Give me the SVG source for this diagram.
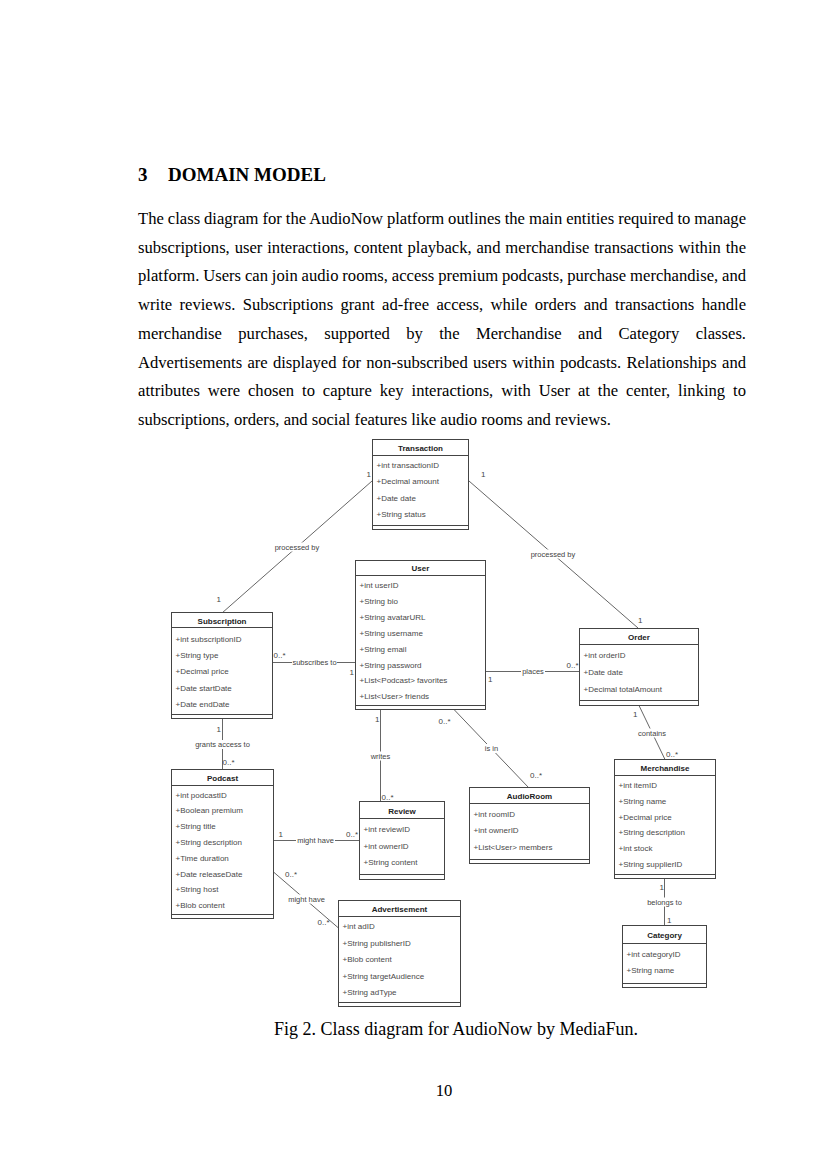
<svg xmlns="http://www.w3.org/2000/svg" width="827" height="1169" viewBox="0 0 827 1169">
<style>
.bg{fill:#fff}
.box{fill:#fff;stroke:#444;stroke-width:1}
.sep{stroke:#444;stroke-width:1;fill:none}
.hd{font-family:"Liberation Sans",Arial,sans-serif;font-size:8px;font-weight:bold;fill:#222;text-anchor:middle}
.at{font-family:"Liberation Sans",Arial,sans-serif;font-size:8px;fill:#4a4a4a}
.ln{stroke:#666;stroke-width:1;fill:none}
.lb{font-family:"Liberation Sans",Arial,sans-serif;font-size:7.5px;fill:#444;text-anchor:middle}
.lbg{fill:#fff}
.m{font-family:"Liberation Sans",Arial,sans-serif;font-size:8px;fill:#444}
.body{font-family:"Liberation Serif","Times New Roman",serif;font-size:16.6px;fill:#000}
.h1{font-family:"Liberation Serif","Times New Roman",serif;font-size:19px;font-weight:bold;fill:#000}
</style>
<rect class="bg" x="0" y="0" width="827" height="1169"/>

<g id="page-text">
<text class="h1" x="138" y="181">3</text>
<text class="h1" x="168" y="181">DOMAIN MODEL</text>
<text class="body" x="138" y="224" textLength="608" lengthAdjust="spacing" style="word-spacing:-0.2px">The class diagram for the AudioNow platform outlines the main entities required to manage</text>
<text class="body" x="138" y="252.7" textLength="608" lengthAdjust="spacing" style="word-spacing:0.75px">subscriptions, user interactions, content playback, and merchandise transactions within the</text>
<text class="body" x="138" y="281.4" textLength="608" lengthAdjust="spacing" style="word-spacing:-0.26px">platform. Users can join audio rooms, access premium podcasts, purchase merchandise, and</text>
<text class="body" x="138" y="310.1" textLength="608" lengthAdjust="spacing" style="word-spacing:3.27px">write reviews. Subscriptions grant ad-free access, while orders and transactions handle</text>
<text class="body" x="138" y="338.8" textLength="608" lengthAdjust="spacing" style="word-spacing:12.25px">merchandise purchases, supported by the Merchandise and Category classes.</text>
<text class="body" x="138" y="367.5" textLength="608" lengthAdjust="spacing" style="word-spacing:1.06px">Advertisements are displayed for non-subscribed users within podcasts. Relationships and</text>
<text class="body" x="138" y="396.2" textLength="608" lengthAdjust="spacing" style="word-spacing:3.75px">attributes were chosen to capture key interactions, with User at the center, linking to</text>
<text class="body" x="138" y="424.9">subscriptions, orders, and social features like audio rooms and reviews.</text>
<text class="body" x="274" y="1035" style="font-size:18px" textLength="364" lengthAdjust="spacing">Fig 2. Class diagram for AudioNow by MediaFun.</text>
<text class="body" x="444" y="1096" text-anchor="middle">10</text>
</g>

<g id="connectors">
<line class="ln" x1="372" y1="481" x2="222" y2="613"/>
<line class="ln" x1="469" y1="481" x2="638" y2="628"/>
<line class="ln" x1="272.5" y1="662.5" x2="355.5" y2="662.5"/>
<line class="ln" x1="486" y1="671.5" x2="579.5" y2="671.5"/>
<line class="ln" x1="639" y1="705.5" x2="665" y2="759.5"/>
<line class="ln" x1="380.5" y1="709.5" x2="380.5" y2="801.5"/>
<line class="ln" x1="454" y1="709.5" x2="528.5" y2="787.5"/>
<line class="ln" x1="222.5" y1="718.5" x2="222.5" y2="769.5"/>
<line class="ln" x1="273.5" y1="840.5" x2="359.5" y2="840.5"/>
<line class="ln" x1="273.5" y1="872" x2="338.5" y2="928"/>
<line class="ln" x1="664.5" y1="878.5" x2="664.5" y2="925.5"/>

<rect class="lbg" x="274" y="542.5" width="46" height="9"/>
<text class="lb" x="297" y="549.7">processed by</text>
<rect class="lbg" x="530" y="549.5" width="46" height="9"/>
<text class="lb" x="553" y="556.7">processed by</text>
<rect class="lbg" x="292" y="658" width="45" height="9"/>
<text class="lb" x="314.5" y="665.2">subscribes to</text>
<rect class="lbg" x="521" y="667" width="24" height="9"/>
<text class="lb" x="533" y="674.2">places</text>
<rect class="lbg" x="637" y="728.5" width="30" height="9"/>
<text class="lb" x="652" y="735.7">contains</text>
<rect class="lbg" x="369.5" y="751.5" width="22" height="9"/>
<text class="lb" x="380.5" y="758.7">writes</text>
<rect class="lbg" x="483.5" y="744" width="16" height="9"/>
<text class="lb" x="491.5" y="751.2">is in</text>
<rect class="lbg" x="194" y="740" width="57" height="9"/>
<text class="lb" x="222.5" y="747.2">grants access to</text>
<rect class="lbg" x="296" y="836" width="39" height="9"/>
<text class="lb" x="315.5" y="843.2">might have</text>
<rect class="lbg" x="287" y="894.5" width="39" height="9"/>
<text class="lb" x="306.5" y="901.7">might have</text>
<rect class="lbg" x="646" y="897.5" width="37" height="9"/>
<text class="lb" x="664.5" y="904.7">belongs to</text>

<text class="m" x="366.5" y="477.3">1</text>
<text class="m" x="481" y="477.3">1</text>
<text class="m" x="216.5" y="601.7">1</text>
<text class="m" x="638" y="622.7">1</text>
<text class="m" x="273.5" y="658">0..*</text>
<text class="m" x="349.5" y="675">1</text>
<text class="m" x="566.5" y="668">0..*</text>
<text class="m" x="488" y="681.7">1</text>
<text class="m" x="633" y="717.3">1</text>
<text class="m" x="666" y="756.7">0..*</text>
<text class="m" x="375" y="722.3">1</text>
<text class="m" x="381.5" y="800">0..*</text>
<text class="m" x="438.5" y="724.3">0..*</text>
<text class="m" x="530" y="777.7">0..*</text>
<text class="m" x="216.5" y="731.7">1</text>
<text class="m" x="222.5" y="765">0..*</text>
<text class="m" x="278.5" y="836.7">1</text>
<text class="m" x="346" y="836.7">0..*</text>
<text class="m" x="285" y="876.7">0..*</text>
<text class="m" x="317.5" y="925">0..*</text>
<text class="m" x="659.5" y="890">1</text>
<text class="m" x="667" y="923">1</text>
</g>

<g id="Transaction">
<rect class="box" x="372.5" y="439.5" width="96" height="90"/>
<line class="sep" x1="372.5" y1="455.5" x2="468.5" y2="455.5"/>
<line class="sep" x1="372.5" y1="525.5" x2="468.5" y2="525.5"/>
<text class="hd" x="420.5" y="450.5">Transaction</text>
<text class="at" x="376.5" y="468">+int transactionID</text>
<text class="at" x="376.5" y="484">+Decimal amount</text>
<text class="at" x="376.5" y="500.5">+Date date</text>
<text class="at" x="376.5" y="517">+String status</text>
</g>

<g id="User">
<rect class="box" x="355.5" y="560.5" width="130" height="149"/>
<line class="sep" x1="355.5" y1="575.5" x2="485.5" y2="575.5"/>
<line class="sep" x1="355.5" y1="705.5" x2="485.5" y2="705.5"/>
<text class="hd" x="420.5" y="571">User</text>
<text class="at" x="359.5" y="588">+int userID</text>
<text class="at" x="359.5" y="604">+String bio</text>
<text class="at" x="359.5" y="620">+String avatarURL</text>
<text class="at" x="359.5" y="636">+String username</text>
<text class="at" x="359.5" y="651.5">+String email</text>
<text class="at" x="359.5" y="667.5">+String password</text>
<text class="at" x="359.5" y="683">+List&lt;Podcast&gt; favorites</text>
<text class="at" x="359.5" y="699">+List&lt;User&gt; friends</text>
</g>

<g id="Subscription">
<rect class="box" x="171.5" y="612.5" width="101" height="106"/>
<line class="sep" x1="171.5" y1="627.5" x2="272.5" y2="627.5"/>
<line class="sep" x1="171.5" y1="714.5" x2="272.5" y2="714.5"/>
<text class="hd" x="222" y="623.5">Subscription</text>
<text class="at" x="175.5" y="641.5">+int subscriptionID</text>
<text class="at" x="175.5" y="657.5">+String type</text>
<text class="at" x="175.5" y="674">+Decimal price</text>
<text class="at" x="175.5" y="690.5">+Date startDate</text>
<text class="at" x="175.5" y="707">+Date endDate</text>
</g>

<g id="Order">
<rect class="box" x="579.5" y="628.5" width="119" height="77"/>
<line class="sep" x1="579.5" y1="644.5" x2="698.5" y2="644.5"/>
<line class="sep" x1="579.5" y1="700.5" x2="698.5" y2="700.5"/>
<text class="hd" x="639" y="639.5">Order</text>
<text class="at" x="583.5" y="657.5">+int orderID</text>
<text class="at" x="583.5" y="674.5">+Date date</text>
<text class="at" x="583.5" y="691.5">+Decimal totalAmount</text>
</g>

<g id="Merchandise">
<rect class="box" x="614.5" y="759.5" width="101" height="119"/>
<line class="sep" x1="614.5" y1="775.5" x2="715.5" y2="775.5"/>
<line class="sep" x1="614.5" y1="874.5" x2="715.5" y2="874.5"/>
<text class="hd" x="665" y="771">Merchandise</text>
<text class="at" x="618.5" y="787.5">+int itemID</text>
<text class="at" x="618.5" y="803.5">+String name</text>
<text class="at" x="618.5" y="819.5">+Decimal price</text>
<text class="at" x="618.5" y="835">+String description</text>
<text class="at" x="618.5" y="851">+int stock</text>
<text class="at" x="618.5" y="867">+String supplierID</text>
</g>

<g id="Category">
<rect class="box" x="622.5" y="925.5" width="84" height="62"/>
<line class="sep" x1="622.5" y1="943.5" x2="706.5" y2="943.5"/>
<line class="sep" x1="622.5" y1="983.5" x2="706.5" y2="983.5"/>
<text class="hd" x="664.5" y="937.5">Category</text>
<text class="at" x="626.5" y="956.5">+int categoryID</text>
<text class="at" x="626.5" y="973">+String name</text>
</g>

<g id="Podcast">
<rect class="box" x="171.5" y="769.5" width="102" height="149"/>
<line class="sep" x1="171.5" y1="785.5" x2="273.5" y2="785.5"/>
<line class="sep" x1="171.5" y1="914.5" x2="273.5" y2="914.5"/>
<text class="hd" x="222.5" y="781">Podcast</text>
<text class="at" x="175.5" y="797.5">+int podcastID</text>
<text class="at" x="175.5" y="813.3">+Boolean premium</text>
<text class="at" x="175.5" y="829.1">+String title</text>
<text class="at" x="175.5" y="845">+String description</text>
<text class="at" x="175.5" y="860.7">+Time duration</text>
<text class="at" x="175.5" y="876.5">+Date releaseDate</text>
<text class="at" x="175.5" y="892.3">+String host</text>
<text class="at" x="175.5" y="908">+Blob content</text>
</g>

<g id="Review">
<rect class="box" x="359.5" y="801.5" width="85" height="78"/>
<line class="sep" x1="359.5" y1="818.5" x2="444.5" y2="818.5"/>
<line class="sep" x1="359.5" y1="874.5" x2="444.5" y2="874.5"/>
<text class="hd" x="402" y="813.5">Review</text>
<text class="at" x="363.5" y="831.5">+int reviewID</text>
<text class="at" x="363.5" y="848.5">+int ownerID</text>
<text class="at" x="363.5" y="865">+String content</text>
</g>

<g id="AudioRoom">
<rect class="box" x="469.5" y="787.5" width="120" height="76"/>
<line class="sep" x1="469.5" y1="803.5" x2="589.5" y2="803.5"/>
<line class="sep" x1="469.5" y1="859.5" x2="589.5" y2="859.5"/>
<text class="hd" x="529.5" y="798.5">AudioRoom</text>
<text class="at" x="473.5" y="816.5">+int roomID</text>
<text class="at" x="473.5" y="833">+int ownerID</text>
<text class="at" x="473.5" y="849.5">+List&lt;User&gt; members</text>
</g>

<g id="Advertisement">
<rect class="box" x="338.5" y="900.5" width="122" height="106"/>
<line class="sep" x1="338.5" y1="916.5" x2="460.5" y2="916.5"/>
<line class="sep" x1="338.5" y1="1002.5" x2="460.5" y2="1002.5"/>
<text class="hd" x="399.5" y="911.5">Advertisement</text>
<text class="at" x="342.5" y="929">+int adID</text>
<text class="at" x="342.5" y="945.5">+String publisherID</text>
<text class="at" x="342.5" y="962">+Blob content</text>
<text class="at" x="342.5" y="978.5">+String targetAudience</text>
<text class="at" x="342.5" y="995">+String adType</text>
</g>
</svg>
